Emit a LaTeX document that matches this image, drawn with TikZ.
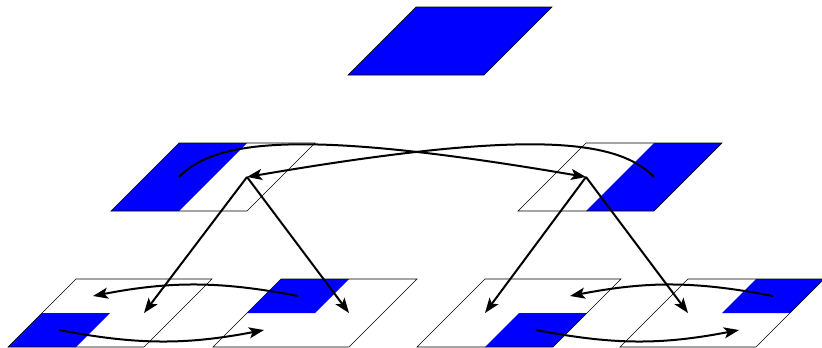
\documentclass[tikz,border=0pt]{standalone}
\usetikzlibrary{arrows.meta}
\tikzset{
  plate/.style={draw=black, line width=0.6pt},
  tint/.style={fill=blue},
  conn/.style={line width=2pt, -{Stealth[length=15pt,width=11pt,inset=3.5pt]}},
}
\newcommand{\plateedge}{\draw[plate] (0,0)--(136,0)--(204,-68)--(68,-68)--cycle;}
\begin{document}
\begin{tikzpicture}[x=1pt,y=-1pt]
\useasboundingbox (0,0) rectangle (822,348);
% top plate
\begin{scope}[shift={(348,75)}]
  \fill[tint] (0,0)--(136,0)--(204,-68)--(68,-68)--cycle;
  \plateedge
\end{scope}
% middle left: left half
\begin{scope}[shift={(111,211)}]
  \fill[tint] (0,0)--(68,0)--(136,-68)--(68,-68)--cycle;
  \plateedge
\end{scope}
% middle right: right half
\begin{scope}[shift={(518,211)}]
  \fill[tint] (68,0)--(136,0)--(204,-68)--(136,-68)--cycle;
  \plateedge
\end{scope}
% bottom 1: bottom-left quarter
\begin{scope}[shift={(8,347)}]
  \fill[tint] (0,0)--(68,0)--(102,-34)--(34,-34)--cycle;
  \plateedge
\end{scope}
% bottom 2: top-left quarter
\begin{scope}[shift={(213,347)}]
  \fill[tint] (34,-34)--(102,-34)--(136,-68)--(68,-68)--cycle;
  \plateedge
\end{scope}
% bottom 3: bottom-right quarter
\begin{scope}[shift={(417,347)}]
  \fill[tint] (68,0)--(136,0)--(170,-34)--(102,-34)--cycle;
  \plateedge
\end{scope}
% bottom 4: top-right quarter
\begin{scope}[shift={(620,347)}]
  \fill[tint] (102,-34)--(170,-34)--(204,-68)--(136,-68)--cycle;
  \plateedge
\end{scope}
% anchor points
\coordinate (mlL) at (179,177);
\coordinate (mlR) at (247,177);
\coordinate (mrL) at (586,177);
\coordinate (mrR) at (654,177);
\coordinate (b1s) at (59,330);
\coordinate (b1t) at (93,296);
\coordinate (b1a) at (144,313);
\coordinate (b2s) at (298,296);
\coordinate (b2t) at (264,330);
\coordinate (b2a) at (349,313);
\coordinate (b3s) at (536,330);
\coordinate (b3t) at (570,296);
\coordinate (b3a) at (485,313);
\coordinate (b4s) at (773,296);
\coordinate (b4t) at (739,330);
\coordinate (b4a) at (688,313);
% middle crossing curves
\draw[conn] (mlL) .. controls +(36,-37) and +(-286,-49) .. (mrL);
\draw[conn] (mrR) .. controls +(-36,-37) and +(286,-49) .. (mlR);
% downward splits
\draw[conn] (mlR) -- (b1a);
\draw[conn] (mlR) -- (b2a);
\draw[conn] (mrL) -- (b3a);
\draw[conn] (mrL) -- (b4a);
% bottom swaps
\draw[conn] (b1s) .. controls +(78,15) and +(-78,15) .. (b2t);
\draw[conn] (b2s) .. controls +(-78,-15) and +(78,-15) .. (b1t);
\draw[conn] (b3s) .. controls +(78,15) and +(-78,15) .. (b4t);
\draw[conn] (b4s) .. controls +(-78,-15) and +(78,-15) .. (b3t);
\end{tikzpicture}
\end{document}
